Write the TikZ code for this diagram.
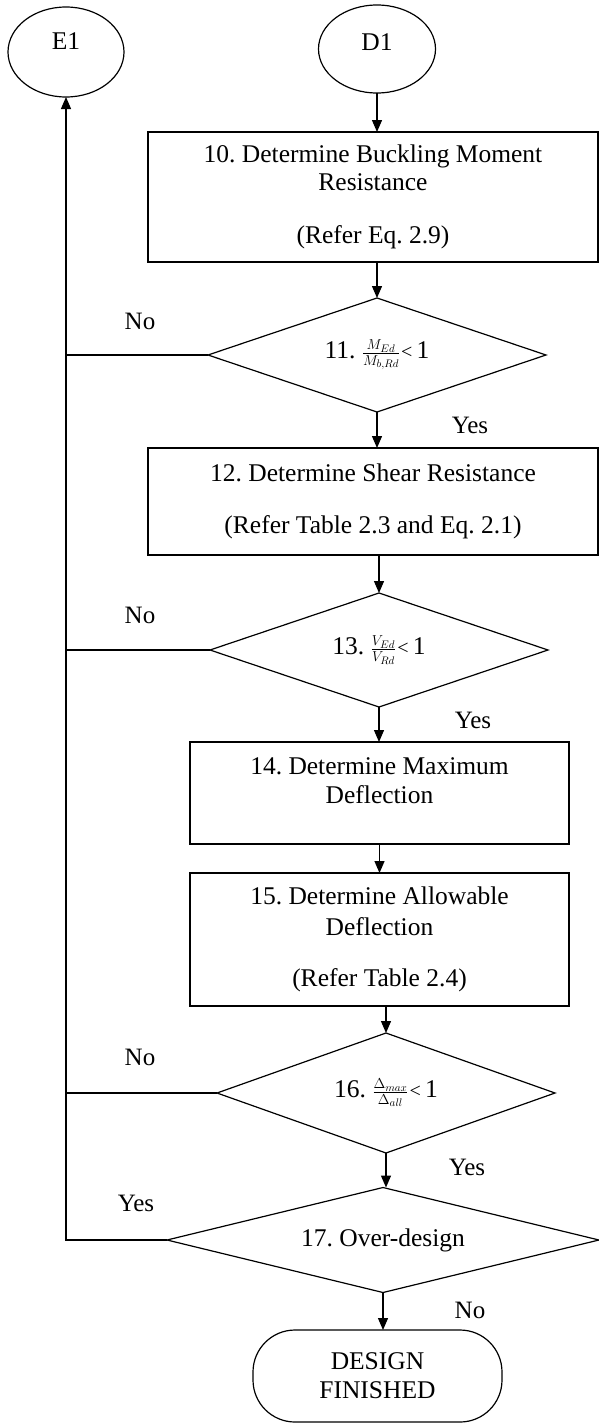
\documentclass[tikz,border=0pt]{standalone}
\usepackage{fontspec}
\setmainfont{Liberation Serif}
\usetikzlibrary{shapes.geometric,arrows.meta}

\begin{document}
\frenchspacing
\begin{tikzpicture}[x=1pt,y=-1pt,
  font=\fontsize{25.5}{29}\selectfont,
  every node/.style={inner sep=0pt, outer sep=0pt},
  line/.style={line width=1.3pt, draw=black},
  flow/.style={line, -{Triangle[length=12pt,width=10pt]}},
  process/.style={draw, line width=1.2pt, rectangle, align=center},
  decision/.style={draw, line width=1.2pt, diamond, aspect=3.5, align=center},
  connector/.style={draw, line width=1.2pt, ellipse},
  terminal/.style={draw, line width=1.2pt, rectangle, rounded corners=42pt, align=center},
  answer/.style={font=\fontsize{25}{29}\selectfont}
]
\newcommand{\fracsize}{\fontsize{22}{23}\selectfont}
\newcommand{\lessone}{\kern1pt{\fontsize{20}{20}\selectfont<}\,1}

% page and background
\useasboundingbox (0,0) rectangle (599,1424);
\fill[white] (0,0) rectangle (599,1424);

% off-page connectors
\node[connector, minimum width=116, minimum height=90] (e1) at (66,52) {\raisebox{22pt}{E1}};
\node[connector, minimum width=117, minimum height=88] (d1) at (377,49) {\raisebox{14pt}{D1}};

% process steps
\node[process, minimum width=450, minimum height=130] (b10) at (373,197)
  {10. Determine Buckling Moment\\[-1pt]Resistance\\[24pt](Refer Eq. 2.9)};
\node[process, minimum width=450, minimum height=107] (b12) at (373,501.5)
  {12. Determine Shear Resistance\\[23pt](Refer Table 2.3 and Eq. 2.1)};
\node[process, minimum width=379, minimum height=102] (b14) at (379.5,793)
  {14. Determine Maximum\\Deflection\\[-4pt]\mbox{}};
\node[process, minimum width=379, minimum height=133] (b15) at (379.5,939.5)
  {15. Determine Allowable\\[2pt]Deflection\\[22pt](Refer Table 2.4)};

% decisions
\node[decision, minimum width=338, minimum height=114] (d11) at (377,355)
  {11. {\fracsize$\frac{M_{Ed}}{M_{b,Rd}}$}\lessone};
\node[decision, minimum width=338, minimum height=114] (d13) at (379,650)
  {13. {\fracsize$\frac{V_{Ed}}{V_{Rd}}$}\lessone};
\node[decision, minimum width=338, minimum height=120] (d16) at (386,1093)
  {16. {\fracsize$\frac{\Delta_{max}}{\Delta_{all}}$}\lessone};
\node[decision, minimum width=432, minimum height=105] (d17) at (383,1240)
  {17. Over-design};

% end of the procedure
\node[terminal, minimum width=249, minimum height=92] (done) at (377.5,1376)
  {DESIGN\\FINISHED};

% main flow
\draw[flow] (d1.south) -- (d1.south |- b10.north);
\draw[flow] (d11.north |- b10.south) -- (d11.north);
\draw[flow] (d11.south) -- (d11.south |- b12.north);
\draw[flow] (d13.north |- b12.south) -- (d13.north);
\draw[flow] (d13.south) -- (d13.south |- b14.north);
\draw[flow] (b14.south) -- (b15.north);
\draw[flow] (d16.north |- b15.south) -- (d16.north);
\draw[flow] (d16.south) -- (d16.south |- d17.north);
\draw[flow] (d17.south) -- (d17.south |- done.north);

% return branch to E1
\draw[flow] (d17.west) -- (d17.west -| e1.south) -- (e1.south);
\draw[line] (d11.west) -- (d11.west -| e1.south);
\draw[line] (d13.west) -- (d13.west -| e1.south);
\draw[line] (d16.west) -- (d16.west -| e1.south);

% branch labels
\node[answer] (no11)  at (140,321)  {No};
\node[answer] (yes11) at (470,425)  {Yes};
\node[answer] (no13)  at (140,615)  {No};
\node[answer] (yes13) at (473,720)  {Yes};
\node[answer] (no16)  at (140,1057) {No};
\node[answer] (yes16) at (467,1167) {Yes};
\node[answer] (yes17) at (136,1203) {Yes};
\node[answer] (no17)  at (470,1310) {No};
\end{tikzpicture}
\end{document}
